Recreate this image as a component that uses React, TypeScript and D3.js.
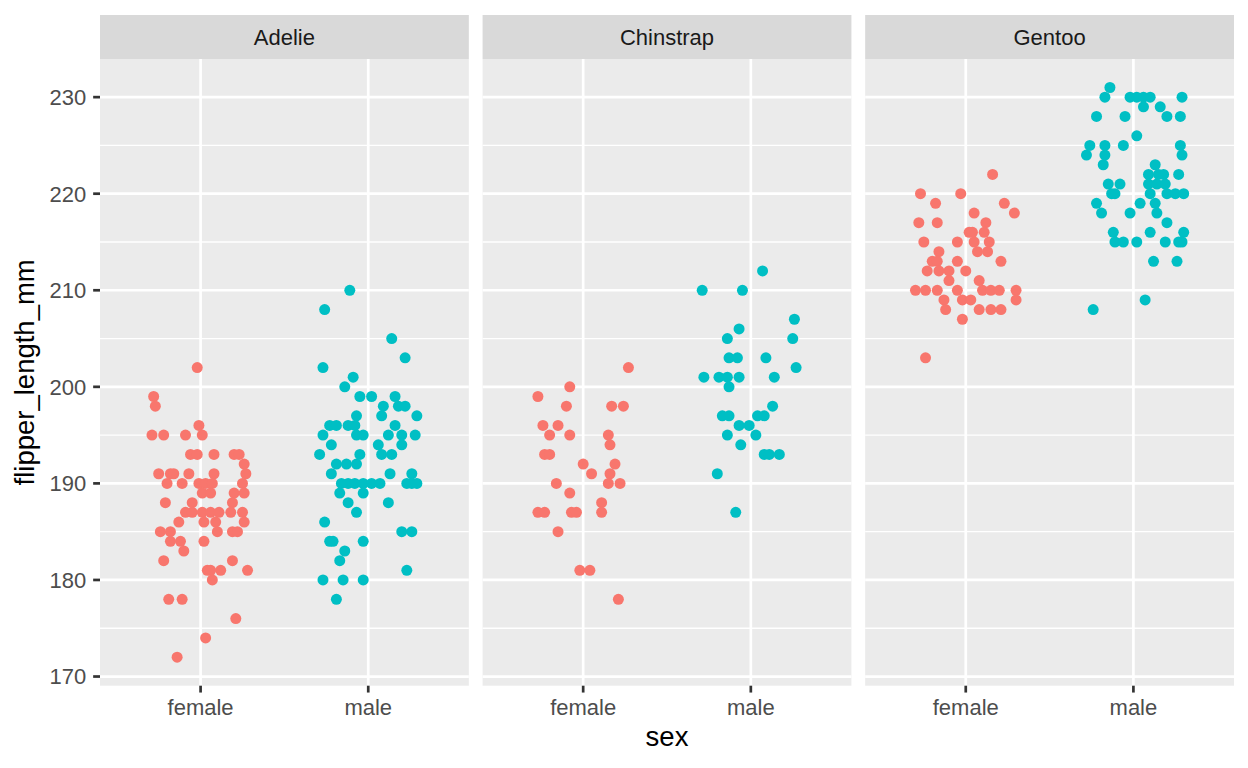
import React from "react";
import * as d3 from "d3";

const species = ["Adelie", "Chinstrap", "Gentoo"];
const sexes = ["female", "male"];
const yTicks = [170, 180, 190, 200, 210, 220, 230];
const yMinor = [175, 185, 195, 205, 215, 225];

// [flipper_length_mm, horizontal jitter in category units]
const adelieFemale: [number, number][] = [
  [202, -0.02], [199, -0.28], [198, -0.27], [196, -0.01],
  [195, -0.29], [195, -0.22], [195, -0.09], [195, 0.01],
  [193, -0.06], [193, -0.02], [193, 0.08], [193, 0.2], [193, 0.23],
  [192, 0.26],
  [191, -0.25], [191, -0.18], [191, -0.16], [191, -0.07], [191, 0.08], [191, 0.27],
  [190, -0.2], [190, -0.11], [190, -0.01], [190, 0.03], [190, 0.07], [190, 0.25],
  [189, 0.01], [189, 0.06], [189, 0.2], [189, 0.26],
  [188, -0.21], [188, -0.05], [188, 0.19],
  [187, -0.09], [187, -0.05], [187, 0.01], [187, 0.06], [187, 0.11], [187, 0.18], [187, 0.25],
  [186, -0.13], [186, 0.02], [186, 0.09], [186, 0.26],
  [185, -0.24], [185, -0.18], [185, 0.1], [185, 0.19], [185, 0.22],
  [184, -0.18], [184, -0.12], [184, 0.02],
  [183, -0.1], [182, -0.22], [182, 0.19],
  [181, 0.04], [181, 0.06], [181, 0.12], [181, 0.28],
  [180, 0.07], [178, -0.19], [178, -0.11], [176, 0.21], [174, 0.03], [172, -0.14],
];

const adelieMale: [number, number][] = [
  [210, -0.11], [208, -0.26], [205, 0.14], [203, 0.22], [202, -0.27], [201, -0.09], [200, -0.14],
  [199, -0.05], [199, 0.02], [199, 0.16],
  [198, 0.09], [198, 0.18], [198, 0.22],
  [197, -0.07], [197, 0.08], [197, 0.29],
  [196, -0.23], [196, -0.19], [196, -0.12], [196, -0.08], [196, 0.16],
  [195, -0.27], [195, -0.07], [195, -0.03], [195, 0.12], [195, 0.2], [195, 0.28],
  [194, -0.22], [194, 0.06], [194, 0.2],
  [193, -0.29], [193, -0.05], [193, 0.08], [193, 0.14],
  [192, -0.19], [192, -0.13], [192, -0.07],
  [191, -0.22], [191, 0.13], [191, 0.26],
  [190, -0.16], [190, -0.12], [190, -0.08], [190, -0.03], [190, 0.02], [190, 0.07], [190, 0.23], [190, 0.26], [190, 0.29],
  [189, -0.17], [189, -0.03], [188, -0.12], [188, 0.12], [187, -0.07], [186, -0.26],
  [185, 0.2], [185, 0.26], [184, -0.23], [184, -0.21], [184, -0.03],
  [183, -0.14], [182, -0.17], [181, 0.23],
  [180, -0.27], [180, -0.15], [180, -0.03], [178, -0.19],
];

const chinstrapFemale: [number, number][] = [
  [202, 0.27], [200, -0.08], [199, -0.27],
  [198, -0.1], [198, 0.17], [198, 0.24],
  [196, -0.24], [196, -0.15],
  [195, -0.2], [195, -0.08], [195, 0.15], [194, 0.16],
  [193, -0.23], [193, -0.2], [192, 0.0], [192, 0.19], [191, 0.05], [191, 0.16],
  [190, -0.16], [190, 0.15], [190, 0.22], [189, -0.08], [188, 0.11],
  [187, -0.27], [187, -0.23], [187, -0.07], [187, -0.04], [187, 0.11],
  [185, -0.15], [181, -0.02], [181, 0.04], [178, 0.21],
];

const chinstrapMale: [number, number][] = [
  [212, 0.07], [210, -0.29], [210, -0.05], [207, 0.26], [206, -0.07],
  [205, -0.14], [205, 0.25], [203, -0.13], [203, -0.08], [203, 0.09], [202, 0.27],
  [201, -0.28], [201, -0.19], [201, -0.14], [201, -0.07], [201, 0.14], [200, -0.13],
  [198, 0.13], [197, -0.17], [197, -0.13], [197, 0.04], [197, 0.08],
  [196, -0.07], [196, -0.01], [195, -0.14], [195, 0.03], [194, -0.06],
  [193, 0.08], [193, 0.11], [193, 0.17], [191, -0.2], [187, -0.09],
];

const gentooFemale: [number, number][] = [
  [222, 0.16], [220, -0.27], [220, -0.03], [219, -0.18], [219, 0.23],
  [218, 0.05], [218, 0.29], [217, -0.28], [217, -0.17], [217, 0.12],
  [216, 0.02], [216, 0.04], [216, 0.11],
  [215, -0.25], [215, -0.05], [215, 0.05], [215, 0.14],
  [214, 0.07], [214, 0.13], [214, -0.16],
  [213, -0.2], [213, -0.17], [213, -0.05], [213, 0.21],
  [212, -0.23], [212, -0.16], [212, -0.1], [212, 0.0],
  [211, -0.1], [211, 0.08],
  [210, -0.3], [210, -0.24], [210, -0.17], [210, -0.05], [210, 0.1], [210, 0.15], [210, 0.2], [210, 0.3],
  [209, -0.13], [209, -0.02], [209, 0.03], [209, 0.3],
  [208, -0.12], [208, 0.08], [208, 0.15], [208, 0.21],
  [207, -0.02], [203, -0.24],
];

const gentooMale: [number, number][] = [
  [231, -0.14], [230, -0.17], [230, -0.02], [230, 0.02], [230, 0.06], [230, 0.1], [230, 0.29],
  [229, 0.06], [229, 0.16], [228, -0.22], [228, -0.05], [228, 0.2], [228, 0.28],
  [226, 0.02], [225, -0.26], [225, -0.17], [225, -0.06], [225, 0.28],
  [224, -0.28], [224, -0.17], [224, 0.29], [223, -0.18], [223, 0.13],
  [222, 0.09], [222, 0.15], [222, 0.18], [222, 0.27],
  [221, -0.15], [221, -0.08], [221, 0.09], [221, 0.14], [221, 0.19],
  [220, -0.13], [220, -0.11], [220, 0.1], [220, 0.2], [220, 0.25], [220, 0.3],
  [219, -0.22], [219, 0.04], [219, 0.13], [218, -0.19], [218, -0.02], [218, 0.14],
  [217, 0.2], [216, -0.12], [216, 0.1], [216, 0.3],
  [215, -0.11], [215, -0.06], [215, 0.02], [215, 0.19], [215, 0.27], [215, 0.29],
  [213, 0.12], [213, 0.26], [209, 0.07], [208, -0.24],
];

const groups: Record<string, [number, number][]> = {
  "Adelie|female": adelieFemale,
  "Adelie|male": adelieMale,
  "Chinstrap|female": chinstrapFemale,
  "Chinstrap|male": chinstrapMale,
  "Gentoo|female": gentooFemale,
  "Gentoo|male": gentooMale,
};

const colors: Record<string, string> = { female: "#F8766D", male: "#00BFC4" };

const W = 1248;
const H = 768;
const left = 100;
const right = 1234;
const gap = 13.75;
const stripTop = 15;
const stripH = 44;
const panelTop = stripTop + stripH;
const panelBottom = 685.7;
const panelW = (right - left - 2 * gap) / 3;
const font = "'Liberation Sans', Arial, Helvetica, sans-serif";

export default function App() {
  const y = d3.scaleLinear().domain([169.05, 233.95]).range([panelBottom, panelTop]);
  return (
    <svg width={W} height={H} style={{ position: "absolute", left: 0, top: 0, background: "#fff" }} fontFamily={font}>
      {species.map((sp, i) => {
        const x0 = left + i * (panelW + gap);
        const x = d3.scalePoint<string>().domain(sexes).range([x0, x0 + panelW]).padding(0.6);
        const step = x.step();
        return (
          <g key={sp}>
            <rect x={x0} y={stripTop} width={panelW} height={stripH} fill="#D9D9D9" />
            <text x={x0 + panelW / 2} y={stripTop + stripH / 2 + 7.9} textAnchor="middle" fontSize={22} fill="#1A1A1A">
              {sp}
            </text>
            <rect x={x0} y={panelTop} width={panelW} height={panelBottom - panelTop} fill="#EBEBEB" />
            {yMinor.map((t) => (
              <line key={"mn" + t} x1={x0} x2={x0 + panelW} y1={y(t)} y2={y(t)} stroke="#fff" strokeWidth={1.35} />
            ))}
            {yTicks.map((t) => (
              <line key={"mj" + t} x1={x0} x2={x0 + panelW} y1={y(t)} y2={y(t)} stroke="#fff" strokeWidth={2.7} />
            ))}
            {sexes.map((s) => (
              <line key={"vx" + s} x1={x(s)!} x2={x(s)!} y1={panelTop} y2={panelBottom} stroke="#fff" strokeWidth={2.7} />
            ))}
            {sexes.map((s) =>
              groups[sp + "|" + s].map(([v, j], k) => (
                <circle key={s + k} cx={x(s)! + j * step} cy={y(v)} r={5.5} fill={colors[s]} />
              ))
            )}
            {sexes.map((s) => (
              <g key={"xt" + s}>
                <line x1={x(s)!} x2={x(s)!} y1={panelBottom} y2={panelBottom + 6.85} stroke="#333333" strokeWidth={2.7} />
                <text x={x(s)!} y={715} textAnchor="middle" fontSize={22} fill="#4D4D4D">
                  {s}
                </text>
              </g>
            ))}
          </g>
        );
      })}
      {yTicks.map((t) => (
        <g key={"yt" + t}>
          <line x1={left - 6.85} x2={left} y1={y(t)} y2={y(t)} stroke="#333333" strokeWidth={2.7} />
          <text x={left - 13.7} y={y(t) + 7.9} textAnchor="end" fontSize={22} fill="#4D4D4D">
            {t}
          </text>
        </g>
      ))}
      <text x={(left + right) / 2} y={746} textAnchor="middle" fontSize={27.5} fill="#000">
        sex
      </text>
      <text
        transform={`translate(${34},${(panelTop + panelBottom) / 2}) rotate(-90)`}
        textAnchor="middle"
        fontSize={27.5}
        fill="#000"
      >
        flipper_length_mm
      </text>
    </svg>
  );
}
